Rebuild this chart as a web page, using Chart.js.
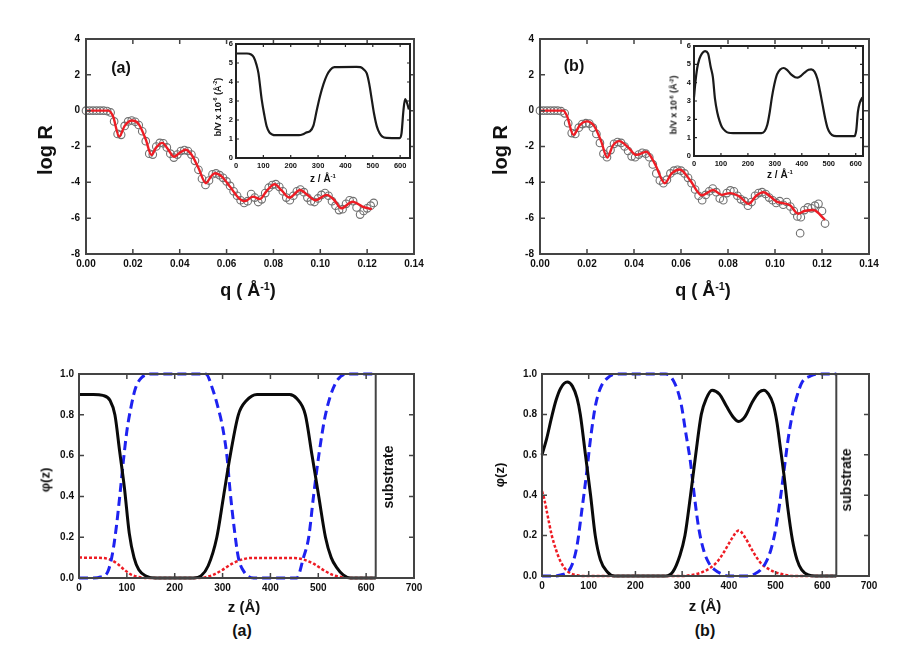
<!DOCTYPE html>
<html><head><meta charset="utf-8">
<script src="https://cdn.jsdelivr.net/npm/chart.js@4"></script>
<style>
body{margin:0;background:#fff;width:924px;height:660px;position:relative;overflow:hidden;font-family:'Liberation Sans',Arial,sans-serif;}
.c{position:absolute;}
.t{position:absolute;font-weight:bold;color:#111;white-space:nowrap;transform:translate(-50%,-50%);line-height:1;}
.r{transform:translate(-50%,-50%) rotate(-90deg);}
sup{font-size:60%;vertical-align:0.6em;line-height:0;}
</style></head><body>
<div class="c" style="left:0;top:0"><canvas id="ra"></canvas></div>
<div class="c" style="left:462px;top:0"><canvas id="rb"></canvas></div>
<div class="c" style="left:0;top:330px"><canvas id="pa"></canvas></div>
<div class="c" style="left:462px;top:330px"><canvas id="pb"></canvas></div>
<div class="c" style="left:196px;top:36px"><canvas id="ia"></canvas></div>
<div class="c" style="left:656px;top:38px"><canvas id="ib"></canvas></div>

<div class="t r" style="left:45px;top:150px;font-size:20px">log R</div>
<div class="t r" style="left:500px;top:150px;font-size:20px">log R</div>
<div class="t" style="left:248px;top:290px;font-size:18px">q ( Å<sup>-1</sup>)</div>
<div class="t" style="left:703px;top:290px;font-size:18px">q ( Å<sup>-1</sup>)</div>
<div class="t" style="left:121px;top:68px;font-size:16px">(a)</div>
<div class="t" style="left:574px;top:66px;font-size:16px">(b)</div>
<div class="t r" style="left:218px;top:107px;font-size:9px">b/V x 10<sup>-6</sup> (Å<sup>-2</sup>)</div>
<div class="t r" style="left:674px;top:105px;font-size:9px">b/V x 10<sup>-6</sup> (Å<sup>-2</sup>)</div>
<div class="t" style="left:323px;top:179px;font-size:10px">z / Å<sup>-1</sup></div>
<div class="t" style="left:780px;top:175px;font-size:10px">z / Å<sup>-1</sup></div>
<div class="t r" style="left:45px;top:480px;font-size:13px">φ(z)</div>
<div class="t r" style="left:499px;top:475px;font-size:13px">φ(z)</div>
<div class="t" style="left:244px;top:606px;font-size:15px">z (Å)</div>
<div class="t" style="left:705px;top:605px;font-size:15px">z (Å)</div>
<div class="t" style="left:242px;top:631px;font-size:16px">(a)</div>
<div class="t" style="left:705px;top:631px;font-size:16px">(b)</div>
<div class="t r" style="left:388px;top:477px;font-size:14px">substrate</div>
<div class="t r" style="left:846px;top:480px;font-size:14px">substrate</div>

<script>
// ---------- Reflectivity (a) ----------
const fitA_q = [0,0.005,0.0095,0.0115,0.0142,0.0165,0.0197,0.0225,0.0255,0.0279,0.030,0.0325,0.035,0.0375,0.040,0.0425,0.045,0.048,0.0512,0.0532,0.055,0.058,0.0615,0.065,0.0679,0.0712,0.0743,0.077,0.0805,0.0835,0.0868,0.0914,0.0945,0.098,0.1027,0.106,0.109,0.1137,0.118,0.122];
const fitA_logR = [0,0,0,-0.3,-1.45,-0.85,-0.55,-0.75,-1.6,-2.47,-2.05,-1.8,-2.15,-2.57,-2.35,-2.18,-2.45,-3.2,-4.05,-3.7,-3.49,-3.68,-4.25,-4.85,-5.05,-4.8,-4.93,-4.5,-4.11,-4.45,-4.85,-4.43,-4.7,-5.0,-4.7,-5.0,-5.45,-5.08,-5.35,-5.5];
const datA_q = [0,0.0015,0.003,0.0045,0.006,0.0075,0.009,0.0105,0.012,0.0135,0.015,0.0165,0.018,0.0195,0.021,0.0225,0.024,0.0255,0.027,0.0285,0.030,0.0315,0.033,0.0345,0.036,0.0375,0.039,0.0405,0.042,0.0435,0.045,0.0465,0.048,0.0495,0.051,0.0525,0.054,0.0555,0.057,0.0585,0.060,0.0615,0.063,0.0645,0.066,0.0675,0.069,0.0705,0.072,0.0735,0.075,0.0765,0.078,0.0795,0.081,0.0825,0.084,0.0855,0.087,0.0885,0.090,0.0915,0.093,0.0945,0.096,0.0975,0.099,0.1005,0.102,0.1035,0.105,0.1065,0.108,0.1095,0.111,0.1125,0.114,0.1155,0.117,0.1185,0.120,0.1215,0.1228];
const datA_logR = [0,0,0,0,0,0,-0.02,-0.1,-0.6,-1.3,-1.35,-0.85,-0.6,-0.55,-0.62,-0.8,-1.15,-1.7,-2.4,-2.45,-2.0,-1.8,-1.82,-2.05,-2.4,-2.62,-2.45,-2.25,-2.2,-2.25,-2.45,-2.8,-3.3,-3.8,-4.15,-3.9,-3.55,-3.5,-3.6,-3.75,-3.95,-4.2,-4.5,-4.75,-5.0,-5.15,-5.05,-4.65,-4.85,-5.1,-4.95,-4.6,-4.3,-4.15,-4.1,-4.25,-4.5,-4.85,-5.0,-4.75,-4.5,-4.4,-4.55,-4.85,-5.05,-5.1,-4.9,-4.7,-4.6,-4.75,-5.05,-5.3,-5.55,-5.5,-5.2,-5.0,-5.05,-5.4,-5.8,-5.6,-5.45,-5.3,-5.15];

// ---------- Reflectivity (b) ----------
const fitB_q = [0,0.005,0.0099,0.0115,0.0142,0.017,0.0199,0.023,0.026,0.0286,0.031,0.0337,0.0375,0.041,0.0453,0.049,0.0531,0.056,0.0595,0.0638,0.0688,0.0737,0.0773,0.0808,0.085,0.0888,0.092,0.095,0.1007,0.1064,0.1098,0.1125,0.1163,0.1213];
const fitB_logR = [0,0,0,-0.3,-1.35,-0.8,-0.6,-0.85,-1.7,-2.62,-1.95,-1.7,-2.05,-2.47,-2.29,-3.0,-4.05,-3.5,-3.28,-3.87,-4.72,-4.43,-4.7,-4.6,-4.8,-5.2,-4.75,-4.55,-5.08,-5.28,-5.75,-5.6,-5.54,-6.1];
const datB_q = [0,0.0015,0.003,0.0045,0.006,0.0075,0.009,0.0105,0.012,0.0135,0.015,0.0165,0.018,0.0195,0.021,0.0225,0.024,0.0255,0.027,0.0285,0.030,0.0315,0.033,0.0345,0.036,0.0375,0.039,0.0405,0.042,0.0435,0.045,0.0465,0.048,0.0495,0.051,0.0525,0.054,0.0555,0.057,0.0585,0.060,0.0615,0.063,0.0645,0.066,0.0675,0.069,0.0705,0.072,0.0735,0.075,0.0765,0.078,0.0795,0.081,0.0825,0.084,0.0855,0.087,0.0885,0.090,0.0915,0.093,0.0945,0.096,0.0975,0.099,0.1005,0.102,0.1035,0.105,0.1065,0.108,0.1095,0.1107,0.111,0.1125,0.114,0.1155,0.117,0.1185,0.120,0.1213];
const datB_logR = [0,0,0,0,0,0,-0.03,-0.15,-0.7,-1.25,-1.3,-0.95,-0.75,-0.7,-0.72,-0.95,-1.3,-1.8,-2.4,-2.6,-2.2,-1.85,-1.75,-1.8,-2.0,-2.25,-2.55,-2.6,-2.45,-2.35,-2.4,-2.6,-3.0,-3.5,-3.9,-4.05,-3.85,-3.5,-3.35,-3.3,-3.35,-3.5,-3.75,-4.05,-4.4,-4.75,-5.0,-4.7,-4.5,-4.35,-4.55,-4.9,-5.0,-4.6,-4.45,-4.5,-4.75,-4.95,-5.05,-5.3,-5.1,-4.75,-4.6,-4.55,-4.65,-4.85,-5.0,-5.15,-5.05,-5.25,-5.1,-5.35,-5.6,-5.9,-6.84,-5.95,-5.55,-5.4,-5.45,-5.3,-5.2,-5.6,-6.3];

// ---------- Insets: scattering length density ----------
const insA_z = [0,40,55,65,75,82,94,103,112,122,132,145,230,245,258,270,283,295,307,320,332,345,360,440,455,468,478,487,496,505,515,525,535,550,598,605,612,618,625,632];
const insA_bv = [5.5,5.5,5.45,5.3,4.9,4.47,3.07,2.3,1.67,1.35,1.24,1.2,1.2,1.25,1.35,1.4,1.7,2.5,3.25,3.9,4.35,4.65,4.78,4.8,4.78,4.65,4.45,3.9,3.1,2.3,1.65,1.3,1.12,1.06,1.05,1.3,2.5,3.1,2.9,2.55];
const insB_z = [0,5,12,20,30,41,52,62,70,78,86,95,103,115,128,145,250,262,272,281,289,298,308,320,333,345,360,375,385,395,410,425,435,447,458,468,477,486,495,505,519,540,595,602,608,615,625];
const insB_bv = [3.2,4.0,4.8,5.3,5.6,5.72,5.6,4.85,4.3,3.1,2.4,1.9,1.6,1.38,1.27,1.25,1.25,1.35,1.7,2.4,3.2,3.9,4.45,4.72,4.8,4.7,4.45,4.3,4.28,4.35,4.55,4.7,4.72,4.6,4.2,3.5,2.8,2.1,1.55,1.25,1.1,1.08,1.08,1.4,2.4,2.9,3.2];

// ---------- Volume fraction profiles (a) ----------
const phiA_blackZ = [0,30,50,65,75,85,95,105,115,125,140,160,240,255,270,288,302,316,333,350,372,440,455,473,487,501,515,527,539,552,567,620];
const phiA_black  = [0.9,0.9,0.895,0.87,0.8,0.62,0.44,0.22,0.1,0.04,0.01,0,0,0.01,0.06,0.2,0.4,0.6,0.8,0.87,0.9,0.9,0.88,0.8,0.6,0.4,0.2,0.1,0.05,0.015,0,0];
const phiA_blueZ = [0,30,45,60,70,78,86,93,100,108,118,130,150,265,280,290,300,309,316,324,333,345,365,455,469,480,490,501,515,535,560,620];
const phiA_blue  = [0,0,0.005,0.03,0.12,0.25,0.42,0.58,0.72,0.83,0.93,0.98,1,1,0.92,0.84,0.74,0.6,0.42,0.25,0.1,0.03,0,0,0.1,0.2,0.4,0.6,0.8,0.95,1,1];
const phiA_redZ = [0,50,65,80,95,110,130,150,250,265,280,300,320,340,360,450,470,490,510,530,550,570,620];
const phiA_red  = [0.1,0.098,0.09,0.07,0.04,0.015,0.003,0,0,0.004,0.015,0.04,0.07,0.09,0.098,0.098,0.09,0.07,0.04,0.015,0.004,0,0];

// ---------- Volume fraction profiles (b) ----------
const phiB_blackZ = [0,10,20,30,40,54,65,75,82,93,104,114,125,140,155,265,280,295,306,318,329,341,352,364,380,395,410,421,435,450,465,475,485,495,503,510,518,526,536,546,556,570,586,630];
const phiB_black  = [0.6,0.68,0.78,0.87,0.93,0.96,0.94,0.88,0.8,0.6,0.4,0.2,0.08,0.02,0,0,0.02,0.1,0.2,0.4,0.6,0.8,0.88,0.92,0.9,0.84,0.785,0.765,0.79,0.86,0.91,0.92,0.9,0.85,0.76,0.64,0.5,0.34,0.18,0.08,0.03,0.005,0,0];
const phiB_blueZ = [0,28,40,55,65,75,85,95,105,115,125,140,160,265,285,298,307,318,327,336,347,357,370,390,400,440,455,468,479,490,500,510,518,527,536,547,557,575,590,630];
const phiB_blue  = [0,0,0.005,0.02,0.06,0.15,0.32,0.5,0.7,0.85,0.93,0.98,1,1,0.95,0.85,0.72,0.56,0.38,0.23,0.12,0.065,0.03,0.005,0,0,0.01,0.03,0.066,0.13,0.23,0.38,0.52,0.68,0.8,0.9,0.96,0.99,1,1];
const phiB_redZ = [0,5,12,21,30,38,48,60,75,90,300,320,340,360,375,390,405,421,435,447,457,470,485,500,520,540,630];
const phiB_red  = [0.42,0.38,0.3,0.2,0.13,0.08,0.04,0.015,0.004,0,0,0.005,0.016,0.04,0.07,0.12,0.18,0.225,0.19,0.14,0.1,0.06,0.035,0.018,0.006,0,0];

// ---------- Tick values ----------
const qTicks = [0,0.02,0.04,0.06,0.08,0.10,0.12,0.14];
const logRTicks = [-8,-6,-4,-2,0,2,4];
const zTicks = [0,100,200,300,400,500,600,700];
const phiTicks = [0,0.2,0.4,0.6,0.8,1.0];
const insZTicks = [0,100,200,300,400,500,600];
const bvTicks = [0,1,2,3,4,5,6];

const pts = (xs, ys) => xs.map((x, i) => ({x, y: ys[i]}));

const framePlugin = {
  id: 'frame',
  afterDatasetsDraw(chart, args, o) {
    const {ctx, chartArea: a, scales: {x, y}} = chart;
    ctx.save();
    ctx.strokeStyle = o.color;
    ctx.lineWidth = o.tickWidth;
    ctx.beginPath();
    x.ticks.forEach(t => {
      const p = x.getPixelForValue(t.value);
      ctx.moveTo(p, a.bottom); ctx.lineTo(p, a.bottom - o.len);
      ctx.moveTo(p, a.top); ctx.lineTo(p, a.top + o.len);
    });
    y.ticks.forEach(t => {
      const p = y.getPixelForValue(t.value);
      ctx.moveTo(a.left, p); ctx.lineTo(a.left + o.len, p);
      ctx.moveTo(a.right, p); ctx.lineTo(a.right - o.len, p);
    });
    ctx.stroke();
    ctx.lineWidth = o.width;
    if (o.vline != null) {
      const p = x.getPixelForValue(o.vline);
      ctx.beginPath(); ctx.moveTo(p, a.top); ctx.lineTo(p, a.bottom); ctx.stroke();
    }
    ctx.strokeRect(a.left, a.top, a.right - a.left, a.bottom - a.top);
    ctx.restore();
  }
};
Chart.register(framePlugin);

function makeChart(id, box, area, xs, ys, datasets, fr) {
  const cv = document.getElementById(id);
  cv.width = box.w; cv.height = box.h;
  cv.style.width = box.w + 'px'; cv.style.height = box.h + 'px';
  const tickFont = {family: "'Liberation Sans', Arial, sans-serif", weight: 'bold', size: fr.font};
  const setTicks = vals => s => { s.ticks = vals.map(v => ({value: v})); };
  new Chart(cv, {
    type: 'scatter',
    data: {datasets},
    options: {
      responsive: false, animation: false, events: [],
      layout: {padding: {left: 0, top: area.t - box.y, right: box.x + box.w - area.r, bottom: 0}},
      plugins: {legend: {display: false}, tooltip: {enabled: false}, frame: fr},
      scales: {
        x: {type: 'linear', min: xs.min, max: xs.max,
            ticks: {callback: xs.fmt, font: tickFont, color: '#111', padding: fr.padX, maxRotation: 0, autoSkip: false},
            grid: {display: false, drawTicks: false}, border: {display: false},
            afterBuildTicks: setTicks(xs.ticks),
            afterFit(s) { s.height = box.y + box.h - area.b; }},
        y: {type: 'linear', min: ys.min, max: ys.max,
            ticks: {callback: ys.fmt, font: tickFont, color: '#111', padding: fr.padY, autoSkip: false},
            grid: {display: false, drawTicks: false}, border: {display: false},
            afterBuildTicks: setTicks(ys.ticks),
            afterFit(s) { s.width = area.l - box.x; }}
      }
    }
  });
}

const lineDs = (data, color, width, dash) => ({data, showLine: true, pointRadius: 0, borderColor: color, borderWidth: width, borderDash: dash || [], cubicInterpolationMode: 'monotone', fill: false, clip: 6});
const circDs = data => ({data, showLine: false, pointRadius: 3.8, pointStyle: 'circle', borderColor: '#707070', pointBorderColor: '#707070', backgroundColor: 'rgba(255,255,255,0)', pointBackgroundColor: 'rgba(255,255,255,0)', borderWidth: 1.1, pointBorderWidth: 1.1, clip: 6});

const RED = '#ee1c24', BLUE = '#1e22f0', BLACK = '#0a0a0a';
const mainFrame = {color: '#444', width: 2, tickWidth: 1.5, len: 5, font: 10, padX: 4, padY: 6};
const botFrame = {color: '#444', width: 2, tickWidth: 1.5, len: 5, font: 10, padX: 4, padY: 5};
const insFrame = {color: '#222', width: 2, tickWidth: 1.2, len: 3, font: 7.5, padX: 3, padY: 3};

const intFmt = v => String(Math.round(v));
const qAxis = {min: 0, max: 0.14, ticks: qTicks, fmt: v => v.toFixed(2)};
const rAxis = {min: -8, max: 4, ticks: logRTicks, fmt: intFmt};
const zAxis = {min: 0, max: 700, ticks: zTicks, fmt: intFmt};
const phiAxis = {min: 0, max: 1, ticks: phiTicks, fmt: v => v.toFixed(1)};
const bvAxis = {min: 0, max: 6, ticks: bvTicks, fmt: intFmt};

makeChart('ra', {x: 0, y: 0, w: 462, h: 300}, {l: 86, r: 414, t: 39, b: 254}, qAxis, rAxis,
  [lineDs(pts(fitA_q, fitA_logR), RED, 2.4), circDs(pts(datA_q, datA_logR))], mainFrame);
makeChart('rb', {x: 462, y: 0, w: 462, h: 300}, {l: 540, r: 869, t: 39, b: 254}, qAxis, rAxis,
  [lineDs(pts(fitB_q, fitB_logR), RED, 2.4), circDs(pts(datB_q, datB_logR))], mainFrame);

makeChart('pa', {x: 0, y: 330, w: 462, h: 270}, {l: 79, r: 414, t: 374, b: 578}, zAxis, phiAxis,
  [lineDs(pts(phiA_blackZ, phiA_black), BLACK, 3),
   lineDs(pts(phiA_blueZ, phiA_blue), BLUE, 3, [9, 5]),
   lineDs(pts(phiA_redZ, phiA_red), RED, 2.5, [3, 2])], Object.assign({vline: 620}, botFrame));
makeChart('pb', {x: 462, y: 330, w: 462, h: 270}, {l: 542, r: 869, t: 374, b: 576}, zAxis, phiAxis,
  [lineDs(pts(phiB_blackZ, phiB_black), BLACK, 3),
   lineDs(pts(phiB_blueZ, phiB_blue), BLUE, 3, [9, 5]),
   lineDs(pts(phiB_redZ, phiB_red), RED, 2.5, [3, 2])], Object.assign({vline: 630}, botFrame));

makeChart('ia', {x: 196, y: 36, w: 218, h: 136}, {l: 236, r: 410, t: 44, b: 158},
  {min: 0, max: 636, ticks: insZTicks, fmt: intFmt}, bvAxis,
  [lineDs(pts(insA_z, insA_bv), '#1a1a1a', 2.2)], insFrame);
makeChart('ib', {x: 656, y: 38, w: 211, h: 132}, {l: 694, r: 863, t: 46, b: 156},
  {min: 0, max: 627, ticks: insZTicks, fmt: intFmt}, bvAxis,
  [lineDs(pts(insB_z, insB_bv), '#1a1a1a', 2.2)], insFrame);
</script>
</body></html>
